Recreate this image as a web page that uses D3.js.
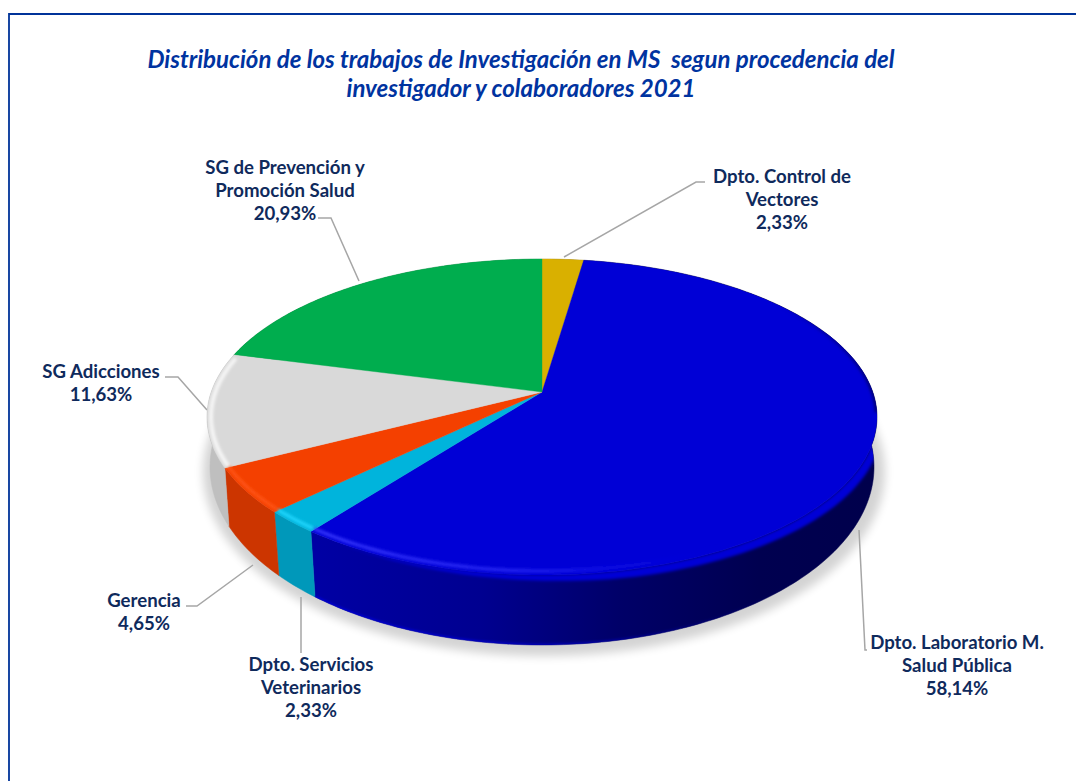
<!DOCTYPE html>
<html><head><meta charset="utf-8">
<style>html,body{margin:0;padding:0;background:#fff;overflow:hidden}svg{display:block}text{font-family:Lato,sans-serif}</style>
<script src="https://cdn.jsdelivr.net/npm/d3@7/dist/d3.min.js"></script>
</head><body><div id="c"></div>
<script>
const categories=["Dpto. Control de Vectores","Dpto. Laboratorio M. Salud Pública","Dpto. Servicios Veterinarios","Gerencia","SG Adicciones","SG de Prevención y Promoción Salud"];
const values=[2.33,58.14,2.33,4.65,11.63,20.93];
const labelLines=[["Dpto. Control de","Vectores"],["Dpto. Laboratorio M.","Salud Pública"],["Dpto. Servicios","Veterinarios"],["Gerencia"],["SG Adicciones"],["SG de Prevención y","Promoción Salud"]];
const percentLabels=["2,33%","58,14%","2,33%","4,65%","11,63%","20,93%"];
const titleLines=["Distribución de los trabajos de Investigación en MS  segun procedencia del","investigador y colaboradores 2021"];

const topColors=["#d9b000","#0000d6","#00b4dc","#f44000","#d9d9d9","#00ad4e"];
const sideColors=["#a88800","url(#sideBlue)","#0098ba","#cc3500","#bfbfbf","#008a3e"];
const rimColors=[null,"url(#rimBlue)","#22d8ff","#ff5518","#f6f6f6",null];

const W=1076,H=781,apexY=392,cx=542;
function ell(y0,rx,ry,apex){const k=(y0-apex)/ry;return {y0,rx,ry,k,a:rx*Math.sqrt(1-k*k)};}
const topE=ell(417,335,158,apexY), rimE=ell(417,331,154,apexY), botE=ell(467,332,178,441), bevE=ell(428,339,155,401);
const pt=(e,t)=>{const u=Math.sin(t),v=Math.cos(t),d=1+e.k*v;
  return [cx+u*e.a/d, e.y0-(v*e.ry+e.k*e.ry)/d];};
const arcPts=(e,a,b)=>{const n=Math.max(4,Math.ceil((b-a)*60));return d3.range(n+1).map(i=>pt(e,a+(b-a)*i/n));};
const line=d3.line();
const pieData=d3.pie().sort(null).value(d=>d)(values);
const bevelWeight=d3.scaleLinear().domain([2.9,3.72]).range([1,0]).clamp(true);

const svg=d3.select("#c").append("svg").attr("width",W).attr("height",H);
const defs=svg.append("defs");
const blur=(id,s)=>defs.append("filter").attr("id",id).attr("x","-10%").attr("y","-10%").attr("width","120%").attr("height","120%").append("feGaussianBlur").attr("stdDeviation",s);
blur("b6",5);blur("b2",1.6);blur("b1",1);
const grad=(id,x1,x2,stops)=>{const g=defs.append("linearGradient").attr("id",id).attr("gradientUnits","userSpaceOnUse").attr("x1",x1).attr("x2",x2).attr("y1",0).attr("y2",0);
  stops.forEach(s=>g.append("stop").attr("offset",s[0]).attr("stop-color",s[1]).attr("stop-opacity",s[2]==null?1:s[2]));};
grad("sideBlue",315,870,[[0,"#0000a4"],[.3,"#000090"],[.55,"#000068"],[.8,"#000050"],[1,"#00004c"]]);
grad("rimBlue",315,720,[[0,"#3a3aff",1],[.5,"#2a2af6",.9],[.8,"#1212e8",.5],[1,"#0000d6",0]]);
grad("darkRim",780,880,[[0,"#000060",0],[1,"#000050",.75]]);
grad("botGlow",315,800,[[0,"#0000d8",.9],[.5,"#0000d0",.7],[1,"#000080",0]]);

// frame
svg.append("path").attr("d","M1076,14H9V781").attr("fill","none").attr("stroke","#003399").attr("stroke-width",1.8);

// title
svg.selectAll("text.title").data(titleLines).join("text").attr("class","title")
 .attr("x",521).attr("y",(d,i)=>67.6+i*29).attr("text-anchor","middle")
 .style("white-space","pre").attr("font-size",24.05).attr("font-weight",700).attr("font-style","italic").attr("fill","#0033a0").text(d=>d);

// shadow
const shadowPts=d3.range(121).map(i=>{const t=i/120*2*Math.PI;return [cx+2+341*Math.sin(t),472+184*Math.cos(t)];});
svg.append("path").attr("d",line(shadowPts)+"Z").attr("fill","#000").attr("opacity",.17).attr("filter","url(#b6)");

// leader lines
const leaders=[[[564,257],[696,182],[705,182]],[[859,530],[865,650],[867,650]],[[301,597],[301,653]],[[253,565],[197,606],[186,606]],[[207,410],[178,377],[165,377]],[[359,281],[331,218],[318,218]]];
svg.selectAll("path.leader").data(leaders).join("path").attr("class","leader").attr("d",d=>line(d)).attr("fill","none").attr("stroke","#a6a6a6").attr("stroke-width",1.5);

// side walls
svg.selectAll("path.side").data(pieData).join("path").attr("class","side")
 .attr("d",d=>line(arcPts(topE,d.startAngle,d.endAngle).concat(arcPts(botE,d.startAngle,d.endAngle).reverse()))+"Z")
 .attr("fill",(d,i)=>sideColors[i]).attr("stroke",(d,i)=>sideColors[i]).attr("stroke-width",.5);

// glow along the lower edge of the blue wall
const clip=defs.append("clipPath").attr("id","pieClip");
clip.selectAll("path").data(pieData).join("path").attr("d",d=>line(arcPts(topE,d.startAngle,d.endAngle).concat(arcPts(botE,d.startAngle,d.endAngle).reverse()))+"Z");
clip.selectAll("path.f").data(pieData).join("path").attr("class","f").attr("d",d=>line([[cx,apexY]].concat(arcPts(topE,d.startAngle,d.endAngle)))+"Z");
const root=svg.append("g").attr("clip-path","url(#pieClip)");
const blue=pieData[1];
root.append("path").attr("d",line(arcPts(botE,Math.PI*.55,blue.endAngle))).attr("fill","none").attr("stroke","url(#botGlow)").attr("stroke-width",3).attr("filter","url(#b1)");

// top faces
root.selectAll("path.face").data(pieData).join("path").attr("class","face")
 .attr("d",d=>line([[cx,apexY]].concat(arcPts(topE,d.startAngle,d.endAngle)))+"Z")
 .attr("fill",(d,i)=>topColors[i]).attr("stroke",(d,i)=>topColors[i]).attr("stroke-width",.4);

// soft bevel of the blue slice: its face rolls over onto the wall
const bevelAngles=d3.range(0,81).map(i=>1.15+(blue.endAngle-1.15)*i/80);
const bevelLow=bevelAngles.map(t=>{const a=pt(topE,t),b=pt(bevE,t),w=bevelWeight(t);return [a[0]+(b[0]-a[0])*w,a[1]+(b[1]-a[1])*w];});
root.append("path").attr("d",line(arcPts(topE,1.15,blue.endAngle).concat(bevelLow.slice().reverse()))+"Z").attr("fill","#0000d6").attr("filter","url(#b2)");
root.append("path").attr("d",line(arcPts(topE,.85,1.7))).attr("fill","none").attr("stroke","url(#darkRim)").attr("stroke-width",4).attr("filter","url(#b2)");

// front rim highlight
const rimEnd=(d,i)=>i===4?Math.min(d.endAngle,4.95):d.endAngle;
root.selectAll("path.rim").data(pieData.map((d,i)=>({d,i})).filter(o=>rimColors[o.i])).join("path").attr("class","rim")
 .attr("d",o=>line(arcPts(rimE,o.i===1?1.9:o.d.startAngle,rimEnd(o.d,o.i)-.004)))
 .attr("fill","none").attr("stroke",o=>rimColors[o.i]).attr("stroke-width",o=>o.i===4?4:3).attr("filter","url(#b2)");

// labels
const labelPos=[[782,183],[957,649],[311,671],[144,607],[101,378],[285,174]];
const lab=svg.selectAll("text.lab").data(values).join("text").attr("class","lab")
 .attr("text-anchor","middle").attr("font-size",18.6).attr("font-weight",700).attr("fill","#0f2a5c");
lab.each(function(v,i){const sel=d3.select(this);
  labelLines[i].concat([percentLabels[i]]).forEach((t,j)=>sel.append("tspan").attr("x",labelPos[i][0]).attr("y",labelPos[i][1]+j*23).text(t));});
</script></body></html>
